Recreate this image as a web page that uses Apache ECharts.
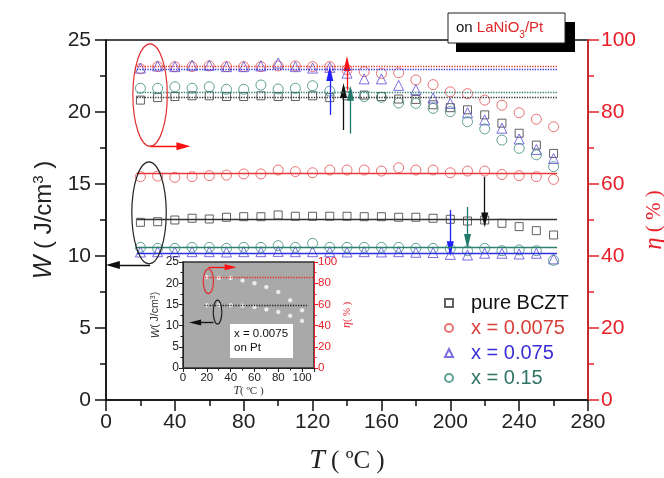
<!DOCTYPE html>
<html><head><meta charset="utf-8">
<script src="https://cdn.jsdelivr.net/npm/echarts@6/dist/echarts.min.js"></script>
<style>html,body{margin:0;padding:0;background:#fff}#c{width:664px;height:478px}</style>
</head><body><div id="c"></div>
<script>
// ---------------- data ----------------
const temps = [20,30,40,50,60,70,80,90,100,110,120,130,140,150,160,170,180,190,200,210,220,230,240,250,260];
const seriesNames = ['pure BCZT', 'x = 0.0075', 'x = 0.075', 'x = 0.15'];
// efficiency eta (%) on right axis
const etaBCZT = [83.3,84.0,84.3,84.5,84.5,84.3,84.3,84.5,84.3,84.3,84.5,84.0,84.5,84.7,84.3,83.6,83.5,82.0,81.2,80.6,79.2,76.9,74.1,70.8,68.5];
const eta0075 = [92.0,92.6,92.6,92.6,92.8,92.6,92.6,92.6,92.8,92.8,92.6,92.6,91.7,91.2,90.7,90.9,88.9,87.6,85.6,85.1,83.3,81.9,79.8,78.0,75.9];
const eta075  = [92.2,92.8,92.6,93.0,93.0,92.6,92.6,92.8,93.6,92.6,92.2,92.4,90.8,89.2,89.2,87.4,86.2,83.9,82.4,79.8,77.8,75.5,72.5,69.6,67.1];
const eta015  = [86.6,86.6,87.0,86.6,87.0,86.3,86.3,87.5,86.4,86.6,87.3,85.8,85.4,84.3,84.1,82.5,82.4,81.0,80.1,77.3,75.3,72.2,69.9,68.1,64.8];
// energy density W (J/cm3) on left axis
const wBCZT = [12.34,12.38,12.5,12.62,12.57,12.69,12.73,12.73,12.85,12.76,12.76,12.76,12.76,12.73,12.73,12.69,12.69,12.62,12.55,12.43,12.5,12.27,12.04,11.76,11.46];
const w0075 = [15.51,15.55,15.46,15.51,15.58,15.62,15.7,15.7,15.97,15.86,15.78,15.97,15.97,15.97,15.9,16.13,15.97,15.97,15.78,15.9,15.9,15.66,15.58,15.51,15.32];
const w075  = [10.28,10.3,10.28,10.3,10.3,10.28,10.3,10.3,10.32,10.3,10.3,10.3,10.28,10.3,10.28,10.3,10.26,10.24,10.11,10.07,10.19,10.19,10.14,10.19,9.8];
const w015  = [10.6,10.53,10.53,10.6,10.6,10.53,10.6,10.6,10.72,10.6,10.88,10.6,10.6,10.6,10.6,10.6,10.53,10.53,10.5,10.37,10.53,10.37,10.42,10.37,9.7];
// reference levels
const etaLevels = [84.1, 92.8, 92.0, 85.5];   // dotted
const wLevels = [12.55, 15.74, 10.19, 10.58]; // solid
const levelSpan = [18, 262];
// arrows [T, from, to]
const etaArrows = [[138, 75, 86], [140, 86, 93.5], [130, 79.2, 90.7], [142, 74, 85.2]];
const wArrows = [[220, 15.5, 12.5], null, [200, 13.2, 10.5], [210, 13.4, 11.0]];
// inset (x = 0.0075 on Pt)
const insetTemps = [20,30,40,50,60,70,80,90,100];
const insetEta = [85.6,85.0,85.0,82.5,80.0,76.3,71.6,63.8,54.4];
const insetW = [14.8,14.8,14.8,14.7,14.4,13.8,13.2,12.3,11.1];
const insetEtaLevel = 85.7;
const insetWLevel = 14.8;
// axis ticks
const xTicks = {min: 0, max: 280, step: 40};
const wTicks = {min: 0, max: 25, step: 5};
const etaTicks = {min: 0, max: 100, step: 20};

// ---------------- styles ----------------
const markerColors = ['#3a3a3a', '#e25050', '#5a4ad8', '#3a8a78'];
const lineColors = ['#333333', '#e83a3a', '#3030e0', '#2e8070'];
const arrowColors = ['#111111', '#ff1010', '#1f1fff', '#1f7a6a'];
const legendText = ['#111111', '#d8403c', '#3a2ed6', '#2f7565'];
const symbols = ['rect', 'circle', 'triangle', 'circle'];
const symSizes = [8, 10, 10, 10];
const RED = '#e8202a';
const FONT = 'Liberation Sans, Arial, sans-serif';
const SERIF = 'Liberation Serif, Times New Roman, serif';

const etaSets = [etaBCZT, eta0075, eta075, eta015];
const wSets = [wBCZT, w0075, w075, w015];

function hline(v, color, type) {
  return [{coord: [levelSpan[0], v], symbol: 'none', lineStyle: {color, type, width: 1.3}},
          {coord: [levelSpan[1], v], symbol: 'none'}];
}
function varrow(a, color) {
  return [{coord: [a[0], a[1]], symbol: 'none', symbolSize: [7, 15], lineStyle: {color, type: 'solid', width: 1.3}, itemStyle: {color}},
          {coord: [a[0], a[2]], symbol: 'triangle', symbolSize: [7, 15], itemStyle: {color}}];
}
function harrow(x1, x2, y, color, size) {
  return [{coord: [x1, y], symbol: 'none', lineStyle: {color, type: 'solid', width: 1.3}, itemStyle: {color}},
          {coord: [x2, y], symbol: 'triangle', symbolSize: size, itemStyle: {color}}];
}
function dotted(x1, x2, y, color) {
  return [{coord: [x1, y], symbol: 'none', lineStyle: {color, type: 'dotted', width: 1.3}},
          {coord: [x2, y], symbol: 'none'}];
}

const series = [];
for (let i = 0; i < 4; i++) {
  const ml = [hline(etaLevels[i], lineColors[i], 'dotted'), varrow(etaArrows[i], arrowColors[i])];
  if (i === 1) ml.push(harrow(25.6, 45, 70.5, '#ff1010', [8, 14]));
  series.push({
    name: seriesNames[i], type: 'scatter', xAxisIndex: 0, yAxisIndex: 1,
    symbol: symbols[i], symbolSize: symSizes[i],
    itemStyle: {color: 'rgba(255,255,255,0)', borderColor: markerColors[i], borderWidth: 1},
    data: temps.map((t, k) => [t, etaSets[i][k]]),
    markLine: {silent: true, animation: false, label: {show: false}, data: ml}
  });
}
for (let i = 0; i < 4; i++) {
  const ml = [hline(wLevels[i], lineColors[i], 'solid')];
  if (wArrows[i]) ml.push(varrow(wArrows[i], arrowColors[i]));
  if (i === 0) ml.push(harrow(25.6, 4, 9.38, '#111', [8, 14]));
  series.push({
    name: seriesNames[i], type: 'scatter', xAxisIndex: 0, yAxisIndex: 0,
    symbol: symbols[i], symbolSize: symSizes[i],
    itemStyle: {color: 'rgba(255,255,255,0)', borderColor: markerColors[i], borderWidth: 1},
    data: temps.map((t, k) => [t, wSets[i][k]]),
    markLine: {silent: true, animation: false, label: {show: false}, data: ml}
  });
}
series.push({
  name: 'inset eta', type: 'scatter', xAxisIndex: 1, yAxisIndex: 3,
  symbol: 'circle', symbolSize: 4, itemStyle: {color: '#ffffff', borderColor: '#e8e8e8', borderWidth: 0.5},
  data: insetTemps.map((t, k) => [t, insetEta[k]]),
  markLine: {silent: true, animation: false, label: {show: false}, data: [
    dotted(18.5, 110, insetEtaLevel, '#e03030'),
    harrow(21.3, 40, 95, '#ff1010', [6, 12])
  ]}
});
series.push({
  name: 'inset W', type: 'scatter', xAxisIndex: 1, yAxisIndex: 2,
  symbol: 'circle', symbolSize: 4, itemStyle: {color: '#ffffff', borderColor: '#e8e8e8', borderWidth: 0.5},
  data: insetTemps.map((t, k) => [t, insetW[k]]),
  markLine: {silent: true, animation: false, label: {show: false}, data: [
    dotted(18, 104, insetWLevel, '#222'),
    harrow(25.6, 10.2, 10.74, '#111', [6, 12])
  ]}
});

const axisBase = (color, w) => ({
  axisLine: {show: true, onZero: false, lineStyle: {color, width: w}},
  splitLine: {show: false}
});

const option = {
  animation: false,
  backgroundColor: '#ffffff',
  textStyle: {fontFamily: FONT},
  grid: [
    {left: 106, top: 40, width: 482, height: 360, show: true, borderColor: '#111', borderWidth: 1.5, backgroundColor: 'rgba(0,0,0,0)', containLabel: false, outerBoundsMode: 'none'},
    {left: 183, top: 262, width: 131, height: 106, show: true, borderColor: '#333', borderWidth: 1.5, backgroundColor: '#a9a9a9', containLabel: false, outerBoundsMode: 'none'}
  ],
  xAxis: [
    Object.assign(axisBase('#111', 1.5), {
      gridIndex: 0, type: 'value', min: xTicks.min, max: xTicks.max, interval: xTicks.step,
      axisTick: {show: true, inside: false, length: 11, lineStyle: {color: '#111', width: 1.5}},
      minorTick: {show: true, splitNumber: 2, length: 6, lineStyle: {color: '#111', width: 1.5}},
      axisLabel: {fontSize: 21, color: '#222', margin: 12, fontFamily: FONT},
      name: '{i|T} ( ºC )', nameLocation: 'middle', nameGap: 47,
      nameTextStyle: {fontSize: 25, color: '#222', fontFamily: SERIF, rich: {i: {fontSize: 28, fontStyle: 'italic', fontFamily: SERIF, color: '#222'}}}
    }),
    Object.assign(axisBase('#222', 1), {
      gridIndex: 1, type: 'value', min: 0, max: 110, interval: 20,
      axisTick: {show: true, inside: false, length: 4, lineStyle: {color: '#222', width: 1}},
      minorTick: {show: true, splitNumber: 2, length: 2.5, lineStyle: {color: '#222', width: 1}},
      axisLabel: {fontSize: 11.5, color: '#222', margin: 4, formatter: v => (v > 100 ? '' : v)},
      name: '{i|T}( ºC )', nameLocation: 'middle', nameGap: 14,
      nameTextStyle: {fontSize: 11, color: '#333', fontFamily: SERIF, rich: {i: {fontSize: 12, fontStyle: 'italic', fontFamily: SERIF, color: '#333'}}}
    })
  ],
  yAxis: [
    Object.assign(axisBase('#111', 1.5), {
      gridIndex: 0, type: 'value', position: 'left', min: wTicks.min, max: wTicks.max, interval: wTicks.step,
      axisTick: {show: true, inside: false, length: 11, lineStyle: {color: '#111', width: 1.5}},
      minorTick: {show: true, splitNumber: 2, length: 6, lineStyle: {color: '#111', width: 1.5}},
      axisLabel: {fontSize: 21, color: '#222', margin: 15},
      name: '{i|W} ( J/cm{s|3} )', nameLocation: 'middle', nameGap: 46, nameRotate: 90,
      nameTextStyle: {fontSize: 24, color: '#222', rich: {i: {fontSize: 25, fontStyle: 'italic', color: '#222'}, s: {fontSize: 15, verticalAlign: 'top', color: '#222'}}}
    }),
    Object.assign(axisBase(RED, 1.5), {
      gridIndex: 0, type: 'value', position: 'right', min: etaTicks.min, max: etaTicks.max, interval: etaTicks.step,
      axisTick: {show: true, inside: false, length: 11, lineStyle: {color: RED, width: 1.5}},
      minorTick: {show: true, splitNumber: 2, length: 6, lineStyle: {color: RED, width: 1.5}},
      axisLabel: {fontSize: 21, color: RED, margin: 13},
      name: '{i|η} ( % )', nameLocation: 'middle', nameGap: 54, nameRotate: 90, nameMoveOverlap: false,
      nameTextStyle: {fontSize: 21, color: RED, fontFamily: SERIF, rich: {i: {fontSize: 25, fontStyle: 'italic', fontFamily: SERIF, color: RED}}}
    }),
    Object.assign(axisBase('#222', 1), {
      gridIndex: 1, type: 'value', position: 'left', min: 0, max: 25, interval: 5,
      axisTick: {show: true, inside: false, length: 4, lineStyle: {color: '#222', width: 1}},
      minorTick: {show: true, splitNumber: 2, length: 2.5, lineStyle: {color: '#222', width: 1}},
      axisLabel: {fontSize: 12, color: '#222', margin: 4},
      name: '{i|W}( J/cm{s|3})', nameLocation: 'middle', nameGap: 22, nameRotate: 90,
      nameTextStyle: {fontSize: 10.5, color: '#333', rich: {i: {fontSize: 11, fontStyle: 'italic', color: '#333'}, s: {fontSize: 7, verticalAlign: 'top', color: '#333'}}}
    }),
    Object.assign(axisBase(RED, 1), {
      gridIndex: 1, type: 'value', position: 'right', min: 0, max: 100, interval: 20,
      axisTick: {show: true, inside: false, length: 4, lineStyle: {color: RED, width: 1}},
      minorTick: {show: true, splitNumber: 2, length: 2.5, lineStyle: {color: RED, width: 1}},
      axisLabel: {fontSize: 11.5, color: RED, margin: 4},
      name: '{i|η}( % )', nameLocation: 'middle', nameGap: 23, nameRotate: 90,
      nameTextStyle: {fontSize: 10, color: RED, fontFamily: SERIF, rich: {i: {fontSize: 12, fontStyle: 'italic', fontFamily: SERIF, color: RED}}}
    })
  ],
  legend: {
    orient: 'vertical', left: 439, top: 288, itemWidth: 8, itemHeight: 8, itemGap: 5,
    selectedMode: false,
    textStyle: {fontSize: 20, fontFamily: FONT, padding: [0, 0, 0, 13]},
    data: seriesNames.map((n, i) => ({name: n, textStyle: {color: legendText[i]}}))
  },
  series
};

const chart = echarts.init(document.getElementById('c'), null, {renderer: 'canvas'});
chart.setOption(option);

// annotation ellipses positioned in data units
const ellipses = [
  {xi: 0, yi: 1, cx: 25.6, cy: 84.7, rx: 10, ry: 14.2, color: '#e03030'},
  {xi: 0, yi: 0, cx: 25, cy: 13.0, rx: 10, ry: 3.54, color: '#222'},
  {xi: 1, yi: 3, cx: 21.3, cy: 81.9, rx: 4.3, ry: 11.7, color: '#e03030'},
  {xi: 1, yi: 2, cx: 29, cy: 13.2, rx: 3.6, ry: 2.8, color: '#222'}
];
const ellGraphics = ellipses.map(e => {
  const f = {xAxisIndex: e.xi, yAxisIndex: e.yi};
  const c = chart.convertToPixel(f, [e.cx, e.cy]);
  const p = chart.convertToPixel(f, [e.cx + e.rx, e.cy + e.ry]);
  return {type: 'ellipse', z: 50, silent: true,
    shape: {cx: c[0], cy: c[1], rx: Math.abs(p[0] - c[0]), ry: Math.abs(p[1] - c[1])},
    style: {fill: 'none', stroke: e.color, lineWidth: 1.2}};
});

chart.setOption({
  graphic: [
    {type: 'rect', z: 60, shape: {x: 456, y: 22, width: 119, height: 30}, style: {fill: '#000'}},
    {type: 'rect', z: 61, shape: {x: 448, y: 13, width: 117, height: 30}, style: {fill: '#fff', stroke: '#222', lineWidth: 1}},
    {type: 'text', z: 62, x: 456, y: 28, style: {
      text: 'on {r|LaNiO}{s|3}{r|/Pt}', fill: '#111', font: '15px ' + FONT, verticalAlign: 'middle',
      rich: {r: {fill: '#e02828', fontSize: 15, fontFamily: FONT}, s: {fill: '#e02828', fontSize: 10, fontFamily: FONT, verticalAlign: 'bottom', lineHeight: 24}}
    }},
    {type: 'rect', z: 60, shape: {x: 230, y: 324, width: 63, height: 34}, style: {fill: '#fff'}},
    {type: 'text', z: 61, x: 234, y: 327, style: {text: 'x = 0.0075\non Pt', fill: '#111', font: '11.5px ' + FONT, lineHeight: 14}},
    ...ellGraphics
  ]
});
</script>
</body></html>
